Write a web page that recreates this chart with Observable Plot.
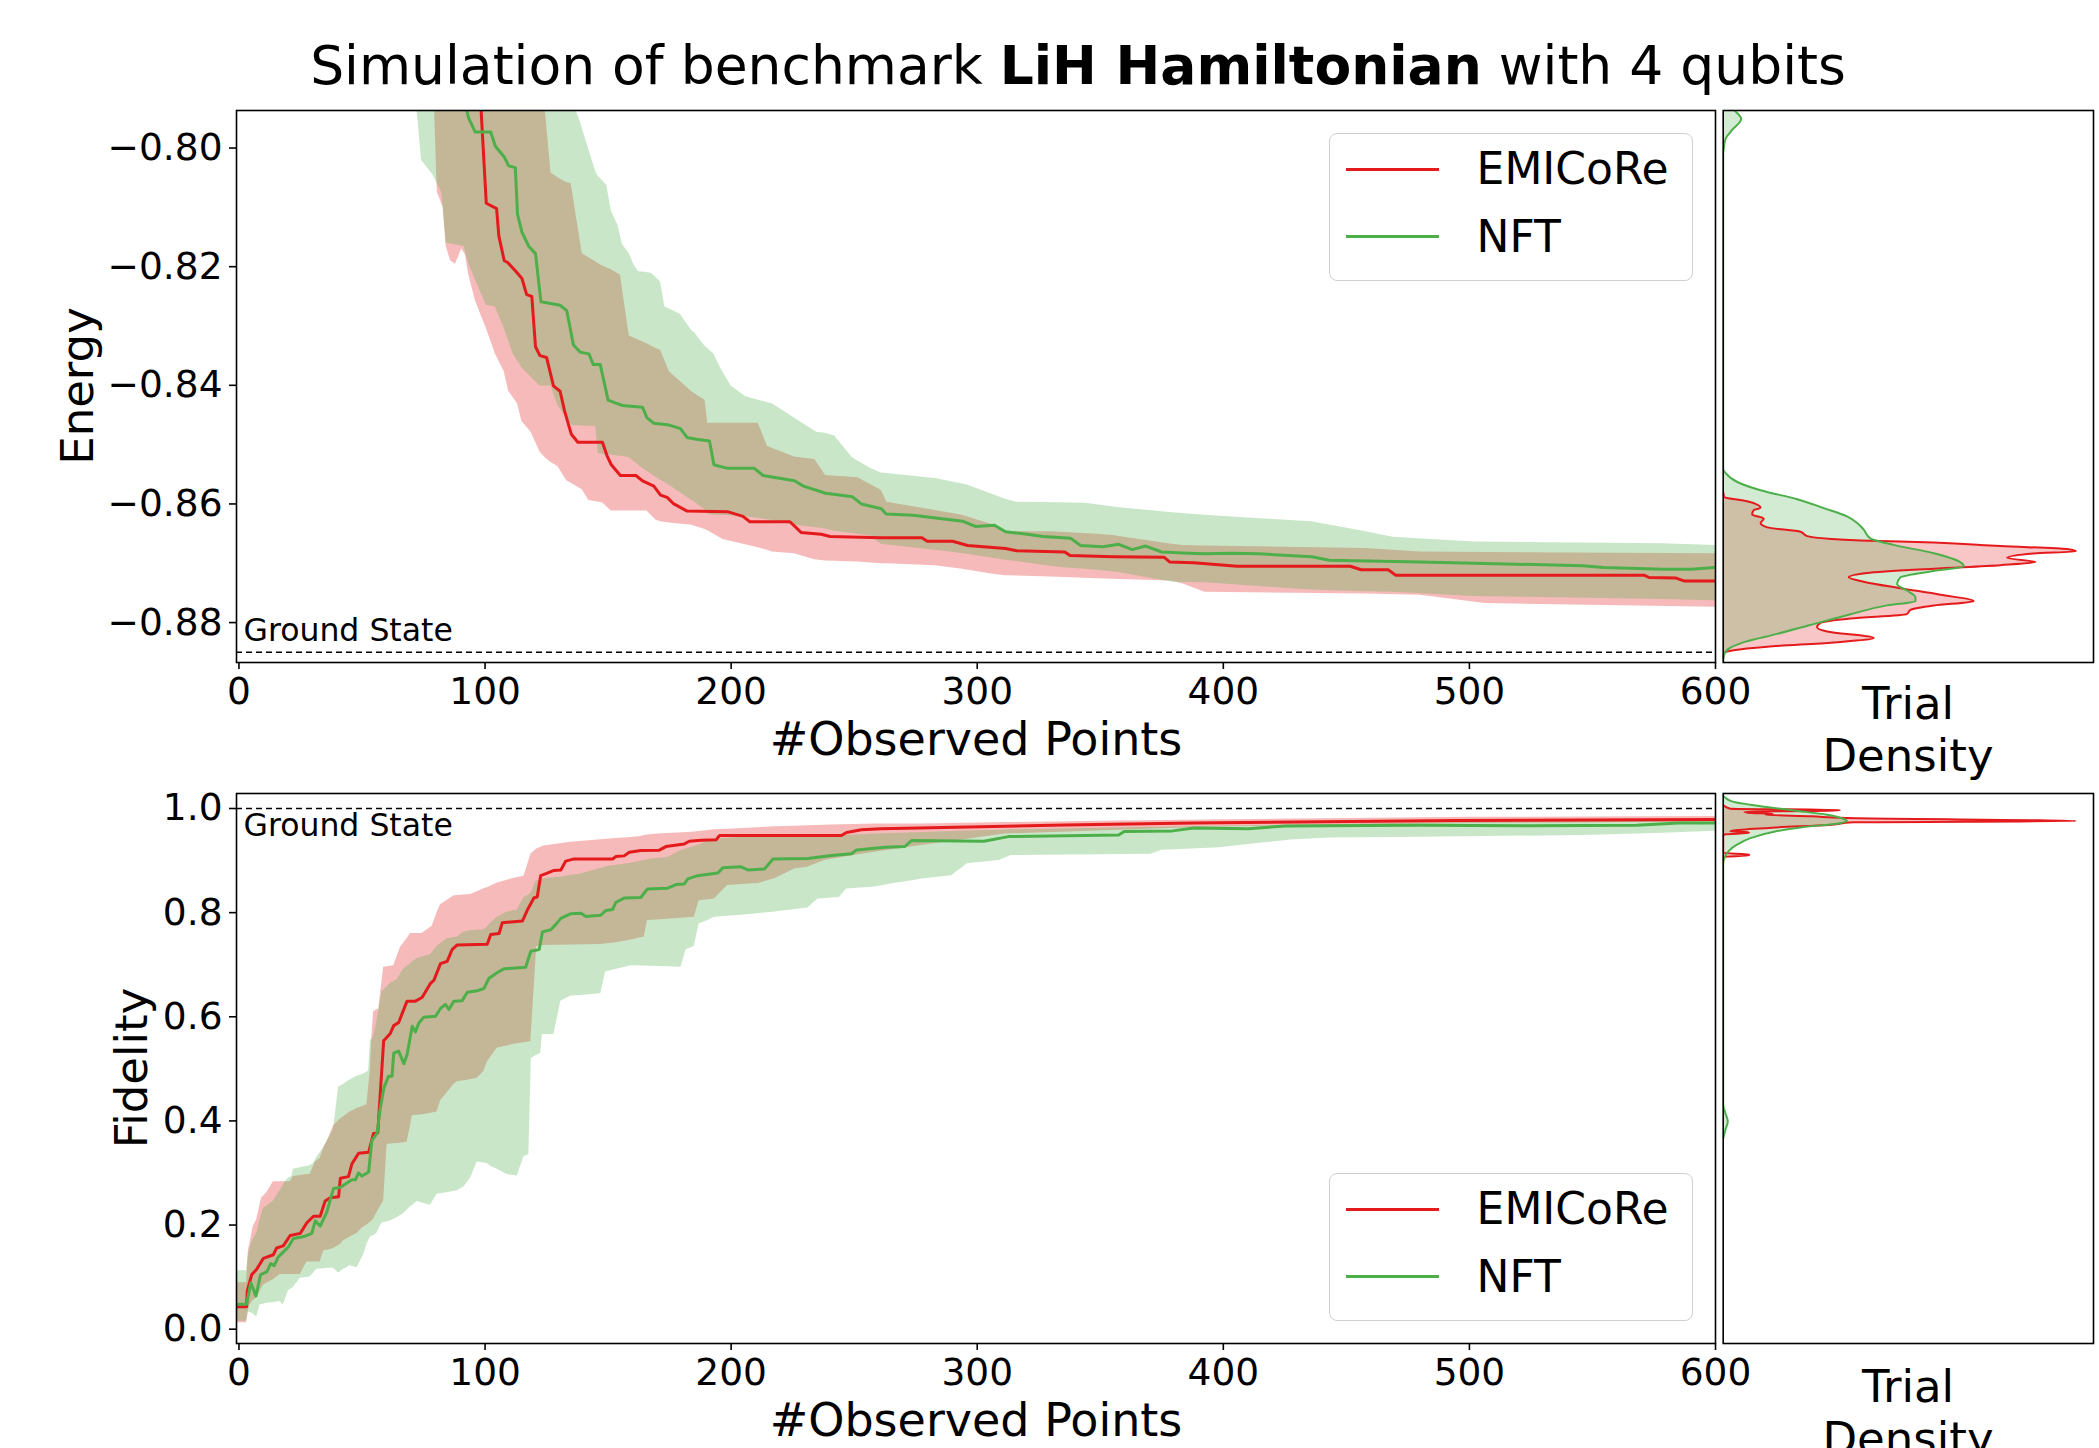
<!DOCTYPE html>
<html><head><meta charset="utf-8">
<script src="https://cdn.jsdelivr.net/npm/d3@7"></script>
<script src="https://cdn.jsdelivr.net/npm/@observablehq/plot@0.6"></script>
<style>
body{margin:0;background:#fff;}
#fig{position:relative;width:2099px;height:1448px;overflow:hidden;font-family:"DejaVu Sans",sans-serif;color:#000;background:#fff;}
.abs{position:absolute;white-space:nowrap;}
.panel{position:absolute;}
.legend{position:absolute;left:1328.6px;width:364px;height:148.5px;border:1.6px solid #d0d0d0;border-radius:8px;box-sizing:border-box;background:rgba(255,255,255,0.8);}
.legend .sw{position:absolute;left:16px;width:93px;height:0;border-top:3px solid;}
.legend .lt{position:absolute;left:147px;font-size:44px;line-height:44px;white-space:nowrap;}
.lab{position:absolute;white-space:nowrap;font-size:46px;line-height:50px;}
</style></head><body>
<div id="fig">
  <div class="abs" id="title" style="left:1078px;top:39px;transform:translateX(-50%);font-size:53.5px;line-height:54px;">Simulation of benchmark <b>LiH Hamiltonian</b> with 4 qubits</div>
  <div class="lab" style="left:78px;top:386px;transform:translate(-50%,-50%) rotate(-90deg);font-size:45px;">Energy</div>
  <div class="lab" style="left:132px;top:1068px;transform:translate(-50%,-50%) rotate(-90deg);font-size:45px;">Fidelity</div>
  <div class="lab" style="left:976px;top:739px;transform:translate(-50%,-50%);">#Observed Points</div>
  <div class="lab" style="left:976px;top:1420px;transform:translate(-50%,-50%);">#Observed Points</div>
  <div class="lab" style="left:1908px;top:678px;transform:translateX(-50%);text-align:center;line-height:52px;font-size:45px;">Trial<br>Density</div>
  <div class="lab" style="left:1908px;top:1361px;transform:translateX(-50%);text-align:center;line-height:52px;font-size:45px;">Trial<br>Density</div>
  <div id="p1" class="panel" style="left:0;top:108px;width:1718px;"></div>
  <div id="p2" class="panel" style="left:1720px;top:108px;width:376px;"></div>
  <div id="p3" class="panel" style="left:0;top:791px;width:1718px;"></div>
  <div id="p4" class="panel" style="left:1720px;top:791px;width:376px;"></div>
  <div id="leg1" class="legend" style="top:132.9px;"></div>
  <div id="leg2" class="legend" style="top:1172.8px;"></div>
</div>
<script>
// ---------- axes / labels ----------
const xDomain = [-1, 600];
const xTicks = [0, 100, 200, 300, 400, 500, 600];
const energyDomain = [-0.88673, -0.79367];
const energyTicks = [-0.80, -0.82, -0.84, -0.86, -0.88];
const fidelityDomain = [-0.0275, 1.0288];
const fidelityTicks = [0.0, 0.2, 0.4, 0.6, 0.8, 1.0];
const groundEnergy = -0.885;
const groundFidelity = 1.0;
const methods = ["EMICoRe", "NFT"];
const colors = {EMICoRe: "#e41a1c", NFT: "#4daf4a"};

// ---------- Energy: mean curves [x, energy] ----------
const energyEmicoreMean = [[88,-0.75],[98.4,-0.7937],[100.5,-0.8093],[104.7,-0.8102],[105.6,-0.8148],[107.8,-0.8190],[109.2,-0.8193],[112.3,-0.8207],[115,-0.8220],[116.9,-0.8247],[119,-0.8250],[120.5,-0.8335],[122.3,-0.8350],[125,-0.8353],[127.8,-0.8401],[130.5,-0.8410],[132.3,-0.8443],[135,-0.8482],[137.7,-0.8496],[147.7,-0.8496],[149.5,-0.8518],[151.3,-0.8534],[155,-0.8552],[161.3,-0.8552],[164,-0.8561],[168.6,-0.8570],[171.3,-0.8585],[174,-0.8589],[176.7,-0.8600],[182.1,-0.8612],[198.5,-0.8613],[204.8,-0.8621],[207.6,-0.8630],[223.9,-0.8630],[228.4,-0.8648],[236.6,-0.8651],[240.2,-0.8655],[261,-0.8657],[277.5,-0.8657],[279.7,-0.8663],[290,-0.8663],[296.1,-0.8670],[311.5,-0.8675],[316,-0.8679],[335.6,-0.8681],[337.7,-0.8687],[355.3,-0.8689],[376,-0.8690],[378.3,-0.8698],[388,-0.8699],[405.6,-0.8705],[451.6,-0.8705],[456,-0.8711],[467,-0.8711],[470,-0.8720],[571,-0.8720],[573,-0.8724],[584,-0.8725],[587.4,-0.8730],[600,-0.8730]];
const energyNftMean = [[85,-0.75],[92.6,-0.7937],[93.3,-0.7949],[96,-0.7973],[102.3,-0.7973],[104.2,-0.7997],[107.8,-0.8015],[109.6,-0.8030],[112.3,-0.8033],[113.2,-0.8112],[115,-0.8142],[117.8,-0.8166],[120.5,-0.8178],[122.7,-0.8259],[130.5,-0.8265],[133.2,-0.8274],[135.9,-0.8332],[138.6,-0.8344],[142.2,-0.8347],[144,-0.8365],[146.8,-0.8365],[150,-0.8425],[153.1,-0.8430],[155.9,-0.8434],[164,-0.8437],[165.8,-0.8455],[168.6,-0.8464],[174.9,-0.8467],[179.4,-0.8473],[182.1,-0.8488],[185.8,-0.8491],[191.2,-0.8494],[193,-0.8534],[198.5,-0.8540],[209.4,-0.8540],[213,-0.8552],[225.7,-0.8561],[229.4,-0.8570],[238.4,-0.8582],[249.3,-0.8588],[252.9,-0.8600],[261,-0.8608],[263,-0.8617],[274,-0.8619],[294,-0.8629],[299.4,-0.8638],[307,-0.8636],[311.5,-0.8647],[318,-0.8650],[326.8,-0.8655],[338,-0.8658],[342,-0.8670],[351,-0.8672],[357.5,-0.8668],[363,-0.8677],[368.4,-0.8671],[375,-0.8681],[386,-0.8683],[392.5,-0.8684],[403.5,-0.8683],[414.4,-0.8684],[436,-0.8689],[443,-0.8695],[480,-0.8698],[502,-0.8700],[546,-0.8704],[554.6,-0.8707],[578.7,-0.8710],[590,-0.8710],[600,-0.8707]];

// ---------- Energy: bands [x, low, high] ----------
const energyEmicoreBand = [[70,-0.76,-0.76],[78.5,-0.78,-0.76],[79.5,-0.7937,-0.76],[80.6,-0.8075,-0.76],[83,-0.8100,-0.76],[84.2,-0.8166,-0.76],[86,-0.8190,-0.76],[88,-0.8196,-0.76],[90.5,-0.8170,-0.76],[92,-0.8180,-0.76],[93.4,-0.8214,-0.76],[96,-0.8256,-0.76],[98.5,-0.8283,-0.76],[100.5,-0.8304,-0.76],[104.2,-0.8347,-0.76],[107.8,-0.8377,-0.76],[109.6,-0.8410,-0.76],[113.2,-0.8431,-0.76],[115,-0.8461,-0.76],[118.7,-0.8479,-0.76],[122.3,-0.8512,-0.76],[124,-0.8520,-0.78],[124.5,-0.8522,-0.7937],[126.8,-0.8530,-0.8042],[129.6,-0.8537,-0.8050],[133.2,-0.8561,-0.8058],[135,-0.8565,-0.8060],[139.5,-0.8576,-0.8178],[142.2,-0.8594,-0.8185],[147.7,-0.8598,-0.8199],[151.3,-0.8612,-0.8205],[155,-0.8612,-0.8214],[158.6,-0.8612,-0.8317],[165.8,-0.8612,-0.8330],[169.4,-0.8627,-0.8338],[171.3,-0.8630,-0.8341],[174.9,-0.8632,-0.8377],[184,-0.8636,-0.8411],[189.4,-0.8643,-0.8425],[190.5,-0.8645,-0.8464],[196.7,-0.8660,-0.8464],[211,-0.8674,-0.8464],[214.8,-0.8678,-0.8503],[216.7,-0.8681,-0.8506],[225.7,-0.8684,-0.8521],[234,-0.8694,-0.8525],[238.4,-0.8696,-0.8552],[251.5,-0.8698,-0.8556],[261,-0.8701,-0.8577],[263.3,-0.8701,-0.8597],[283,-0.8704,-0.8611],[294,-0.8710,-0.8619],[307,-0.8719,-0.8636],[311.5,-0.8721,-0.8645],[313.7,-0.8721,-0.8647],[330,-0.8723,-0.8647],[348.7,-0.8726,-0.8651],[355,-0.8727,-0.8653],[379,-0.8730,-0.8668],[383.7,-0.8735,-0.8670],[392.5,-0.8749,-0.8671],[458,-0.8752,-0.8675],[480,-0.8754,-0.8681],[506.4,-0.8768,-0.8682],[600,-0.8774,-0.8684]];
const energyNftBand = [[65,-0.76,-0.76],[72,-0.78,-0.76],[72.4,-0.7937,-0.76],[74.2,-0.8021,-0.76],[78.8,-0.8045,-0.76],[82.4,-0.8075,-0.76],[84.2,-0.8160,-0.76],[91.5,-0.8166,-0.76],[93.4,-0.8196,-0.76],[100.5,-0.8265,-0.76],[104.2,-0.8268,-0.76],[107.8,-0.8304,-0.76],[111.4,-0.8347,-0.76],[115,-0.8371,-0.76],[122.3,-0.8401,-0.76],[126.8,-0.8401,-0.76],[129.6,-0.8434,-0.76],[135,-0.8467,-0.76],[136.5,-0.8468,-0.78],[137,-0.8468,-0.7937],[138.6,-0.8468,-0.7955],[140.4,-0.8469,-0.7979],[144,-0.8469,-0.8027],[145,-0.8470,-0.8040],[146,-0.8515,-0.8048],[146.8,-0.8516,-0.8051],[149.5,-0.8517,-0.8063],[151.3,-0.8518,-0.8106],[154,-0.8519,-0.8130],[155.9,-0.8520,-0.8163],[158.6,-0.8522,-0.8178],[160.4,-0.8528,-0.8196],[162.2,-0.8534,-0.8208],[164,-0.8540,-0.8209],[167.6,-0.8550,-0.8211],[171.3,-0.8560,-0.8226],[173.1,-0.8564,-0.8268],[179.4,-0.8581,-0.8280],[184,-0.8594,-0.8308],[184.9,-0.8596,-0.8310],[189.4,-0.8610,-0.8334],[191,-0.8618,-0.8340],[193,-0.8619,-0.8347],[195.7,-0.8619,-0.8371],[200,-0.8620,-0.8401],[205.8,-0.8622,-0.8419],[211,-0.8624,-0.8425],[216.7,-0.8628,-0.8431],[225.7,-0.8636,-0.8455],[234.8,-0.8640,-0.8479],[238,-0.8642,-0.8481],[242,-0.8646,-0.8485],[249.3,-0.8650,-0.8522],[256.5,-0.8654,-0.8540],[261,-0.8668,-0.8548],[283,-0.8678,-0.8557],[296,-0.8685,-0.8568],[311.5,-0.8695,-0.8592],[316,-0.8697,-0.8597],[333.4,-0.8707,-0.8598],[344,-0.8710,-0.8599],[357,-0.8715,-0.8606],[379.4,-0.8732,-0.8615],[392.5,-0.8733,-0.8619],[427.5,-0.8743,-0.8628],[436,-0.8745,-0.8630],[458,-0.8748,-0.8647],[469,-0.8749,-0.8656],[502,-0.8756,-0.8664],[578.7,-0.8761,-0.8667],[600,-0.8763,-0.8670]];

// ---------- Energy: trial densities [energy, relative density] ----------
const energyDensityEmicore = [[-0.8580,0],[-0.85883,0.003],[-0.85956,0.068],[-0.86066,0.106],[-0.86102,0.087],[-0.86176,0.082],[-0.86249,0.115],[-0.86322,0.106],[-0.86395,0.125],[-0.86468,0.219],[-0.86542,0.238],[-0.86615,0.389],[-0.86651,0.597],[-0.86710,0.786],[-0.86761,0.975],[-0.86798,1.0],[-0.86834,0.88],[-0.86908,0.805],[-0.86980,0.885],[-0.87032,0.786],[-0.87091,0.597],[-0.87164,0.408],[-0.87237,0.356],[-0.87310,0.398],[-0.87420,0.502],[-0.87530,0.616],[-0.87639,0.71],[-0.87712,0.597],[-0.87786,0.531],[-0.87859,0.52],[-0.87932,0.361],[-0.88005,0.276],[-0.88078,0.266],[-0.88151,0.295],[-0.88261,0.427],[-0.88334,0.313],[-0.88407,0.125],[-0.88466,0.03],[-0.88517,0.002],[-0.8860,0]];
const energyDensityNft = [[-0.7920,0.012],[-0.7935,0.030],[-0.7951,0.051],[-0.7969,0.026],[-0.7984,0.007],[-0.7999,0.002],[-0.8010,0],[-0.8541,0],[-0.8548,0.007],[-0.8563,0.040],[-0.8577,0.106],[-0.8592,0.21],[-0.8607,0.285],[-0.8621,0.351],[-0.8632,0.38],[-0.8643,0.398],[-0.8658,0.417],[-0.8669,0.483],[-0.8683,0.597],[-0.8698,0.672],[-0.8705,0.682],[-0.8713,0.597],[-0.8724,0.502],[-0.8735,0.493],[-0.8746,0.521],[-0.8757,0.545],[-0.8764,0.545],[-0.8771,0.465],[-0.8786,0.361],[-0.8804,0.247],[-0.8819,0.153],[-0.8833,0.059],[-0.8844,0.016],[-0.8855,0.002],[-0.8867,0]];

// ---------- Fidelity: mean curves [x, fidelity] ----------
const fidelityEmicoreMean = [[-1,0.0432],[3.1,0.0432],[3.4,0.0741],[5.2,0.105],[7.2,0.115],[9.9,0.136],[14,0.143],[15.3,0.156],[18,0.160],[20.8,0.180],[24.9,0.184],[27.6,0.2043],[30.3,0.217],[33,0.217],[35,0.246],[37.1,0.2524],[40.5,0.2545],[41.2,0.290],[44.5,0.293],[45.9,0.3175],[48.6,0.338],[52.7,0.340],[54.7,0.376],[56.4,0.377],[58.8,0.554],[61.5,0.568],[62.9,0.583],[64.9,0.589],[66.3,0.606],[68.3,0.630],[71.7,0.630],[74.4,0.637],[77.8,0.664],[79.2,0.670],[81.9,0.702],[84.6,0.7065],[86.6,0.729],[88.7,0.738],[100.9,0.7394],[102.3,0.758],[105.7,0.760],[107,0.7805],[115.2,0.784],[117.2,0.805],[119.9,0.8286],[121.2,0.830],[122.6,0.871],[125.3,0.876],[128,0.881],[130.8,0.882],[132.8,0.899],[136.2,0.9032],[151.8,0.9032],[153.2,0.9077],[156.5,0.909],[158.6,0.916],[163.3,0.9192],[170.8,0.920],[173.5,0.9269],[181,0.932],[183,0.937],[187.8,0.939],[193.9,0.940],[195.3,0.948],[244.8,0.948],[246.9,0.954],[253,0.959],[261,0.961],[335.6,0.9685],[388,0.9723],[451.6,0.9749],[495.4,0.9768],[600,0.9787]];
const fidelityNftMean = [[-1,0.048],[3.1,0.048],[4.8,0.089],[6.9,0.064],[8.8,0.105],[11.3,0.110],[12.9,0.126],[14.3,0.122],[16,0.139],[20.1,0.158],[22.1,0.174],[25.5,0.177],[27.6,0.180],[29.6,0.184],[31,0.208],[33,0.198],[35.7,0.225],[38.4,0.270],[41.1,0.272],[45.9,0.287],[47.3,0.287],[48.6,0.300],[50,0.294],[52.7,0.302],[54,0.362],[56.1,0.376],[57.4,0.424],[59,0.465],[60.8,0.486],[62.2,0.486],[62.9,0.530],[64.9,0.534],[67,0.510],[68.3,0.527],[70.4,0.582],[71.7,0.571],[73.1,0.588],[75.1,0.599],[79.9,0.601],[81.9,0.616],[83.9,0.624],[85.3,0.614],[87.3,0.630],[90.7,0.631],[92.8,0.647],[96.8,0.650],[99.5,0.654],[101.6,0.674],[105,0.685],[107.7,0.692],[116.5,0.695],[118.6,0.726],[122,0.729],[123.3,0.763],[126.7,0.767],[128.7,0.777],[130.8,0.789],[134.9,0.798],[139,0.799],[141,0.7925],[144.3,0.794],[147,0.795],[149,0.804],[151.8,0.806],[153.2,0.820],[156.5,0.828],[163.3,0.829],[166,0.8456],[174.2,0.847],[177.6,0.8539],[181,0.855],[182.4,0.8648],[186.4,0.871],[194.6,0.876],[196.6,0.886],[204,0.888],[206.8,0.882],[213.6,0.884],[217,0.903],[231.2,0.904],[240.7,0.9096],[248.9,0.913],[251,0.9205],[262.5,0.9256],[270.6,0.927],[273.3,0.9384],[302.7,0.937],[312.6,0.946],[357.5,0.949],[359.7,0.956],[379.4,0.957],[388,0.9627],[410,0.961],[425.4,0.9666],[458,0.9672],[480,0.968],[524,0.967],[568,0.968],[585,0.9723],[600,0.9723]];

// ---------- Fidelity: bands [x, low, high] ----------
const fidelityEmicoreBand = [[-1,0.0123,0.089],[3.1,0.0123,0.089],[3.8,0.035,0.150],[4.5,0.047,0.165],[5.8,0.055,0.197],[7.2,0.060,0.210],[9.2,0.078,0.252],[9.9,0.0843,0.255],[11.3,0.088,0.262],[14,0.095,0.283],[16.7,0.105,0.283],[20.8,0.105,0.283],[22.1,0.105,0.293],[24.9,0.105,0.295],[27.6,0.129,0.297],[28.9,0.129,0.297],[31,0.129,0.321],[33,0.129,0.328],[34.4,0.150,0.348],[36.4,0.152,0.366],[38.4,0.155,0.390],[41.1,0.162,0.403],[42.5,0.170,0.408],[45.2,0.177,0.417],[48,0.184,0.424],[50,0.194,0.427],[52,0.200,0.431],[53.4,0.205,0.499],[54,0.208,0.561],[54.7,0.211,0.609],[55.4,0.218,0.612],[56.8,0.230,0.615],[58.8,0.246,0.695],[60.2,0.355,0.696],[62.9,0.356,0.698],[65.6,0.357,0.733],[68.3,0.359,0.750],[69.7,0.390,0.760],[70.4,0.410,0.760],[74.4,0.412,0.760],[78.5,0.415,0.774],[80.5,0.417,0.800],[81.9,0.438,0.815],[87.3,0.470,0.832],[88.7,0.475,0.833],[94.1,0.479,0.835],[96.8,0.482,0.840],[99.5,0.495,0.846],[100.9,0.513,0.848],[105,0.540,0.857],[109,0.544,0.862],[111.8,0.547,0.866],[115.8,0.550,0.870],[117.2,0.551,0.890],[118.6,0.552,0.912],[121,0.735,0.922],[124,0.737,0.928],[134.9,0.738,0.935],[147,0.739,0.940],[151.8,0.741,0.942],[158,0.746,0.944],[163.3,0.752,0.946],[164.7,0.753,0.948],[166,0.785,0.949],[170,0.786,0.951],[182.4,0.790,0.954],[185,0.791,0.955],[187,0.823,0.956],[193.2,0.826,0.959],[198.6,0.852,0.960],[211,0.856,0.963],[217.7,0.865,0.965],[225.8,0.884,0.966],[231,0.887,0.967],[238,0.900,0.968],[244.8,0.906,0.969],[258.4,0.916,0.970],[277.4,0.929,0.9704],[311.5,0.951,0.973],[357.5,0.958,0.976],[392.5,0.964,0.978],[450,0.968,0.981],[500,0.971,0.983],[600,0.974,0.9845]];
const fidelityNftBand = [[-1,0.015,0.112],[3.1,0.015,0.112],[3.8,0.033,0.140],[4.5,0.032,0.156],[5.5,0.030,0.170],[7.2,0.023,0.184],[8.6,0.047,0.210],[9.9,0.048,0.232],[11.3,0.050,0.236],[14,0.051,0.246],[16.7,0.053,0.266],[18,0.047,0.276],[18.7,0.055,0.283],[20.1,0.074,0.290],[21.5,0.078,0.293],[22.1,0.080,0.307],[24.9,0.098,0.310],[28.9,0.100,0.314],[30.3,0.108,0.318],[31.6,0.115,0.330],[34.4,0.116,0.348],[36.4,0.117,0.366],[38.4,0.117,0.383],[40.5,0.108,0.465],[42.5,0.115,0.470],[43.9,0.118,0.475],[45,0.122,0.478],[48,0.118,0.486],[50.7,0.143,0.490],[52,0.163,0.494],[52.7,0.170,0.496],[53.4,0.177,0.554],[54.7,0.180,0.561],[56,0.184,0.590],[58.1,0.204,0.647],[61.5,0.208,0.664],[64.2,0.214,0.671],[67,0.222,0.692],[69.7,0.235,0.702],[70.4,0.237,0.705],[72.4,0.245,0.712],[77.8,0.238,0.719],[80.5,0.259,0.735],[84.6,0.262,0.750],[88.7,0.266,0.753],[91.4,0.273,0.763],[94.1,0.290,0.765],[96.8,0.321,0.766],[99.5,0.319,0.767],[100.9,0.318,0.772],[102.3,0.313,0.780],[105,0.307,0.791],[109,0.297,0.801],[113.1,0.294,0.805],[115.8,0.331,0.829],[117.8,0.335,0.834],[118.8,0.520,0.838],[120.6,0.525,0.860],[122.6,0.530,0.863],[123.3,0.566,0.865],[128,0.566,0.867],[130.8,0.630,0.868],[134.9,0.640,0.872],[139,0.641,0.874],[147,0.644,0.885],[149,0.686,0.887],[149.8,0.687,0.8885],[159.3,0.698,0.895],[167.4,0.697,0.903],[174.2,0.696,0.906],[179.6,0.695,0.919],[181.7,0.7285,0.922],[185,0.735,0.927],[187,0.778,0.930],[190.5,0.785,0.938],[193.2,0.791,0.940],[196,0.792,0.942],[204,0.795,0.945],[217.7,0.801,0.946],[231.2,0.809,0.946],[235.3,0.826,0.946],[244,0.829,0.947],[246.9,0.8456,0.948],[258.4,0.849,0.951],[265,0.855,0.952],[278.6,0.865,0.954],[289.6,0.871,0.956],[296,0.894,0.957],[309,0.900,0.958],[313.7,0.9096,0.959],[350,0.911,0.962],[370.6,0.912,0.964],[375,0.920,0.964],[397,0.924,0.966],[427.5,0.9397,0.968],[443,0.9435,0.969],[480,0.945,0.972],[546,0.948,0.975],[578.7,0.9525,0.977],[600,0.9563,0.978]];

// ---------- Fidelity: trial densities [fidelity, relative density] ----------
const fidelityDensityEmicore = [[1.0061,0],[0.9996,0.02],[0.9971,0.33],[0.9955,0.33],[0.9939,0.06],[0.9914,0.08],[0.9898,0.14],[0.9881,0.12],[0.9849,0.25],[0.9816,0.35],[0.9759,1.0],[0.9734,0.37],[0.9685,0.30],[0.9636,0.15],[0.9587,0.04],[0.9562,0.02],[0.9546,0.073],[0.9529,0.073],[0.9505,0.005],[0.9472,0],[0.9145,0],[0.9120,0.073],[0.9096,0.073],[0.9071,0],[0.9022,0]];
const fidelityDensityNft = [[1.0249,0],[1.0127,0.03],[1.0045,0.106],[0.9963,0.2],[0.9881,0.295],[0.9799,0.342],[0.9759,0.351],[0.9718,0.33],[0.9636,0.219],[0.9554,0.144],[0.9431,0.077],[0.9309,0.04],[0.9186,0.016],[0.9063,0.004],[0.8940,0],[0.4317,0],[0.4154,0.006],[0.3990,0.013],[0.3826,0.006],[0.3663,0]];

// ---------- helpers ----------
const rows2 = p => p.map(([x, y]) => ({x, y}));
const rows3 = p => p.map(([x, lo, hi]) => ({x, lo, hi}));
const densRows = p => p.map(([v, d]) => ({v, d})).sort((a, b) => a.v - b.v);
const baseStyle = {fontFamily: "DejaVu Sans", fontSize: "37.5px", color: "#000", background: "transparent", maxWidth: "none", overflow: "visible"};

function mainPanel(o) {
  return Plot.plot({
    width: 1718, height: 2 + o.frameH + 60,
    marginLeft: 236, marginRight: 3, marginTop: 2, marginBottom: 60,
    x: {type: "linear", domain: xDomain},
    y: {type: "linear", domain: o.domain},
    style: baseStyle,
    marks: [
      Plot.areaY(rows3(o.redBand), {x: "x", y1: "lo", y2: "hi", fill: colors.EMICoRe, fillOpacity: 0.3, clip: true}),
      Plot.areaY(rows3(o.greenBand), {x: "x", y1: "lo", y2: "hi", fill: colors.NFT, fillOpacity: 0.3, clip: true}),
      Plot.line(rows2(o.redMean), {x: "x", y: "y", stroke: colors.EMICoRe, strokeWidth: 3, clip: true}),
      Plot.line(rows2(o.greenMean), {x: "x", y: "y", stroke: colors.NFT, strokeWidth: 3, clip: true}),
      Plot.ruleY([o.gs], {stroke: "#000", strokeWidth: 1.6, strokeDasharray: "6,4"}),
      Plot.text([{y: o.gs, t: "Ground State"}], {y: "y", text: "t", frameAnchor: "left", textAnchor: "start", dx: 7, dy: o.gsDy, lineAnchor: o.gsLine, fontSize: 31.5, fill: "#000"}),
      Plot.axisX({ticks: xTicks, tickFormat: d3.format("d"), tickSize: 7, tickPadding: 8, label: null, stroke: "#000", strokeWidth: 1.6}),
      Plot.axisY({ticks: o.ticks, tickFormat: o.fmt, tickSize: 7, tickPadding: 7, label: null, stroke: "#000", strokeWidth: 1.6}),
      Plot.frame({stroke: "#000", strokeWidth: 1.6})
    ]
  });
}

function densityPanel(o) {
  return Plot.plot({
    width: 376, height: 2 + o.frameH + 60,
    marginLeft: 2.7, marginRight: 3, marginTop: 2, marginBottom: 60,
    x: {type: "linear", domain: [0, 1.05], axis: null},
    y: {type: "linear", domain: o.domain, axis: null},
    style: baseStyle,
    marks: [
      Plot.areaX(densRows(o.red), {y: "v", x: "d", fill: colors.EMICoRe, fillOpacity: 0.25, curve: "monotone-y", clip: true}),
      Plot.areaX(densRows(o.green), {y: "v", x: "d", fill: colors.NFT, fillOpacity: 0.25, curve: "monotone-y", clip: true}),
      Plot.lineX(densRows(o.red), {y: "v", x: "d", stroke: colors.EMICoRe, strokeWidth: 2, curve: "monotone-y", clip: true}),
      Plot.lineX(densRows(o.green), {y: "v", x: "d", stroke: colors.NFT, strokeWidth: 2, curve: "monotone-y", clip: true}),
      Plot.frame({stroke: "#000", strokeWidth: 1.6})
    ]
  });
}

document.getElementById("p1").appendChild(mainPanel({
  frameH: 552, domain: energyDomain, ticks: energyTicks, fmt: d3.format(".2f"),
  redBand: energyEmicoreBand, greenBand: energyNftBand, redMean: energyEmicoreMean, greenMean: energyNftMean,
  gs: groundEnergy, gsDy: -11, gsLine: "bottom"
}));
document.getElementById("p2").appendChild(densityPanel({
  frameH: 552, domain: energyDomain, red: energyDensityEmicore, green: energyDensityNft
}));
document.getElementById("p3").appendChild(mainPanel({
  frameH: 550, domain: fidelityDomain, ticks: fidelityTicks, fmt: d3.format(".1f"),
  redBand: fidelityEmicoreBand, greenBand: fidelityNftBand, redMean: fidelityEmicoreMean, greenMean: fidelityNftMean,
  gs: groundFidelity, gsDy: 5, gsLine: "top"
}));
document.getElementById("p4").appendChild(densityPanel({
  frameH: 550, domain: fidelityDomain, red: fidelityDensityEmicore, green: fidelityDensityNft
}));

// legends
for (const id of ["leg1", "leg2"]) {
  const box = document.getElementById(id);
  methods.forEach((m, i) => {
    const cy = 35.5 + i * 67.5;
    const sw = document.createElement("div");
    sw.className = "sw"; sw.style.borderTopColor = colors[m]; sw.style.top = (cy - 1.5) + "px";
    const t = document.createElement("div");
    t.className = "lt"; t.textContent = m; t.style.top = (cy - 22) + "px";
    box.appendChild(sw); box.appendChild(t);
  });
}
</script>
</body></html>
